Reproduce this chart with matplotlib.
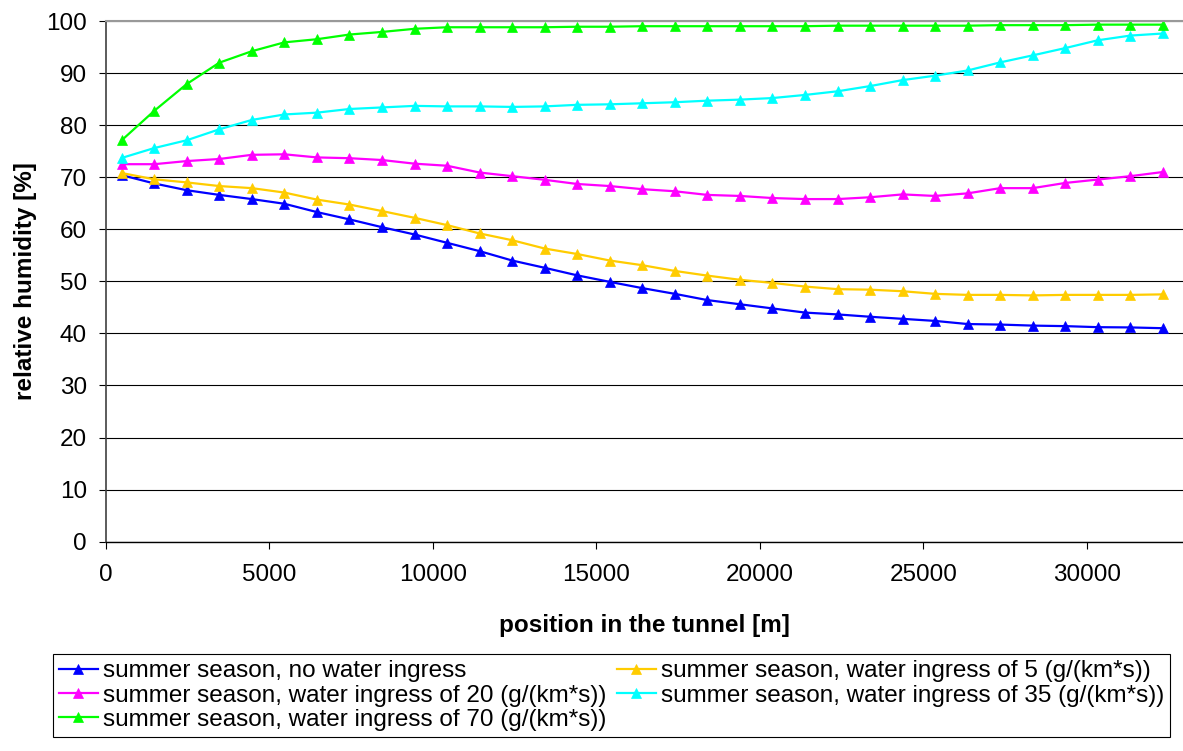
import matplotlib
matplotlib.use("Agg")
import matplotlib.pyplot as plt

plt.rcParams['font.family'] = ['Liberation Sans', 'DejaVu Sans']

positions = [490, 1485, 2480, 3475, 4470, 5465, 6460, 7455, 8450, 9445, 10440,
             11435, 12430, 13425, 14420, 15415, 16410, 17405, 18400, 19395, 20390,
             21385, 22380, 23375, 24370, 25365, 26360, 27355, 28350, 29345, 30340,
             31335, 32330]

rh_no_ingress = [70.4, 68.8, 67.5, 66.6, 65.8, 64.9, 63.3, 61.9, 60.4, 59.0, 57.4,
                 55.8, 54.0, 52.6, 51.15, 49.9, 48.7, 47.6, 46.4, 45.6, 44.8,
                 44.0, 43.65, 43.2, 42.8, 42.4, 41.8, 41.7, 41.5, 41.4, 41.2,
                 41.15, 41.0]
rh_ingress_5 = [70.8, 69.6, 69.0, 68.3, 67.9, 67.05, 65.7, 64.75, 63.5, 62.2, 60.8,
                59.2, 57.9, 56.3, 55.25, 54.0, 53.1, 52.0, 51.1, 50.3, 49.7,
                49.0, 48.5, 48.4, 48.1, 47.6, 47.4, 47.4, 47.3, 47.4, 47.4,
                47.4, 47.5]
rh_ingress_20 = [72.5, 72.5, 73.1, 73.5, 74.3, 74.4, 73.8, 73.65, 73.3, 72.6, 72.2,
                 70.9, 70.2, 69.5, 68.7, 68.3, 67.7, 67.3, 66.6, 66.4, 66.0,
                 65.8, 65.8, 66.15, 66.7, 66.4, 66.9, 67.9, 67.9, 68.9, 69.55,
                 70.2, 71.0]
rh_ingress_35 = [73.7, 75.6, 77.1, 79.2, 81.0, 82.05, 82.4, 83.1, 83.4, 83.7, 83.6,
                 83.6, 83.5, 83.6, 83.9, 84.0, 84.2, 84.4, 84.7, 84.9, 85.2,
                 85.8, 86.5, 87.5, 88.65, 89.5, 90.5, 92.05, 93.4, 94.8, 96.3,
                 97.2, 97.6]
rh_ingress_70 = [77.1, 82.75, 87.9, 92.0, 94.2, 95.9, 96.5, 97.4, 97.9, 98.5, 98.8,
                 98.8, 98.8, 98.8, 98.9, 98.9, 99.0, 99.0, 99.0, 99.0, 99.0,
                 99.0, 99.1, 99.1, 99.1, 99.1, 99.1, 99.2, 99.2, 99.2, 99.3,
                 99.3, 99.3]

labels = ["summer season, no water ingress",
          "summer season, water ingress of 5 (g/(km*s))",
          "summer season, water ingress of 20 (g/(km*s))",
          "summer season, water ingress of 35 (g/(km*s))",
          "summer season, water ingress of 70 (g/(km*s))"]
colors = ["#0000FF", "#FFCC00", "#FF00FF", "#00FFFF", "#00FF00"]
series = [rh_no_ingress, rh_ingress_5, rh_ingress_20, rh_ingress_35, rh_ingress_70]

W, H = 1183, 751
fig = plt.figure(figsize=(W / 100, H / 100), dpi=100)
left, right, top, bottom = 105.7, 1183, 21, 541.7
ax = fig.add_axes([left / W, 1 - bottom / H, (right - left) / W, (bottom - top) / H])

lines = []
for ys, c, lab in zip(series, colors, labels):
    ln, = ax.plot(positions, ys, color=c, lw=1.6, marker='^', markersize=7.5,
                  markeredgewidth=0.5, markeredgecolor=c, label=lab, clip_on=False)
    lines.append(ln)

ax.set_xlim(0, 32945)
ax.set_ylim(0, 100)
ax.set_xticks(range(0, 30001, 5000))
ax.set_yticks(range(0, 101, 10))
ax.yaxis.grid(True, color='black', lw=0.8)
ax.set_axisbelow(True)

ax.spines['right'].set_visible(False)
ax.spines['top'].set_color('#999999')
ax.spines['top'].set_linewidth(1.5)
ax.spines['left'].set_color('#404040')
ax.spines['left'].set_linewidth(1.2)
ax.spines['bottom'].set_color('black')
ax.spines['bottom'].set_linewidth(1.0)

ax.tick_params(axis='x', length=5, width=0.8, pad=11, labelsize=17.5, colors='black')
ax.tick_params(axis='y', length=5, width=0.8, pad=8.5, labelsize=17.5, colors='black')

ax.set_xlabel("position in the tunnel [m]", fontsize=17.5, fontweight='bold')
ax.xaxis.set_label_coords((left + right) / 2 / W, 1 - 614 / H, transform=fig.transFigure)
ax.set_ylabel("relative humidity [%]", fontsize=17.5, fontweight='bold')
ax.yaxis.set_label_coords(37 / W, 1 - (top + bottom) / 2 / H, transform=fig.transFigure)

order = [0, 2, 4, 1, 3]
leg = fig.legend([lines[i] for i in order], [labels[i] for i in order], ncol=2,
                 loc='upper left', bbox_to_anchor=(52.7 / W, 1 - 654 / H),
                 bbox_transform=fig.transFigure, fontsize=17.5, frameon=True,
                 fancybox=False, edgecolor='black', framealpha=1,
                 handlelength=1.6, handletextpad=0.2, columnspacing=0.45,
                 labelspacing=0.1, borderpad=0.25, borderaxespad=0)
leg.get_frame().set_linewidth(0.8)

fig.savefig("out.png", dpi=100)
